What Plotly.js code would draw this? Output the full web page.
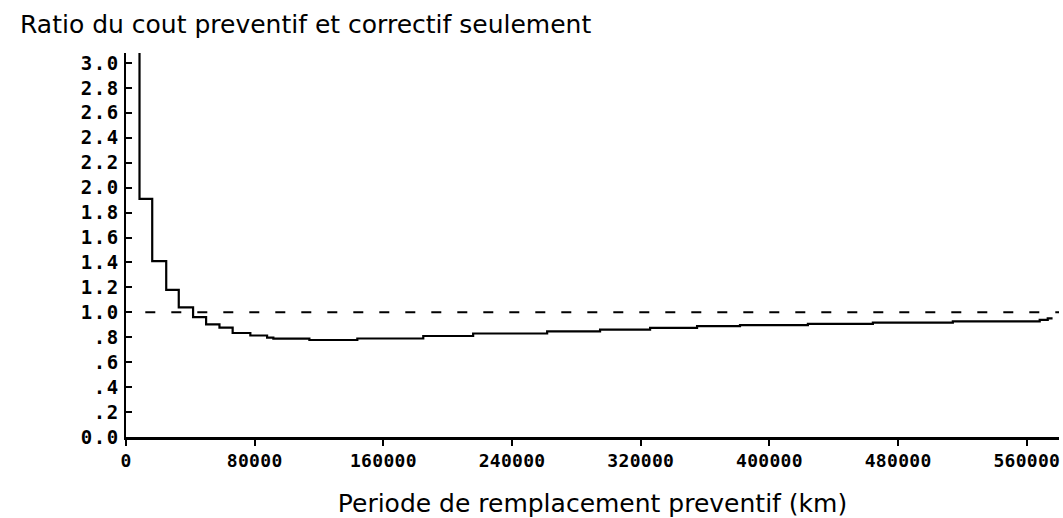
<!DOCTYPE html>
<html>
<head>
<meta charset="utf-8">
<script src="https://cdn.plot.ly/plotly-3.0.1.min.js"></script>
<style>
html,body{margin:0;padding:0;background:#fff;}
.ytick text {letter-spacing: 1.5px;}
.xtick text {letter-spacing: 0.3px;}
</style>
</head>
<body>
<div id="chart" style="width:1063px;height:518px;"></div>
<script>
// Preventive replacement period (km) at which each step starts
const periodKm = [0, 8400, 16300, 25000, 32800, 41700, 49800, 58100, 66300, 77300, 87700, 91600, 114000, 143800, 184800, 215800, 261800, 294700, 325800, 355000, 381700, 423900, 464300, 514000, 568000, 573000, 576000];
// Cost ratio (preventive + corrective vs corrective only); first value is off-scale
const costRatio = [20, 1.91, 1.41, 1.18, 1.04, 0.962, 0.904, 0.878, 0.834, 0.814, 0.797, 0.789, 0.778, 0.79, 0.81, 0.83, 0.848, 0.862, 0.876, 0.89, 0.898, 0.908, 0.918, 0.928, 0.94, 0.952, 0.952];
// Reference ratio = 1
const refKm = [12000, 580000];
const refRatio = [1, 1];
// Ticks
const xTickVals = [0, 80000, 160000, 240000, 320000, 400000, 480000, 560000];
const xTickText = ["0", "80000", "160000", "240000", "320000", "400000", "480000", "560000"];
const yTickVals = [0, 0.2, 0.4, 0.6, 0.8, 1.0, 1.2, 1.4, 1.6, 1.8, 2.0, 2.2, 2.4, 2.6, 2.8, 3.0];
const yTickText = ["0.0", ".2", ".4", ".6", ".8", "1.0", "1.2", "1.4", "1.6", "1.8", "2.0", "2.2", "2.4", "2.6", "2.8", "3.0"];

const xTickFont = {family: "DejaVu Sans Mono", size: 18, color: "#000", weight: 700};
const yTickFont = {family: "DejaVu Sans Mono", size: 19, color: "#000", weight: 700};
const textFont = {family: "DejaVu Sans", size: 25, color: "#000"};

const traces = [
  {x: refKm, y: refRatio, type: "scatter", mode: "lines",
   line: {color: "#000", width: 2, dash: "10px,16px"}, hoverinfo: "skip"},
  {x: periodKm, y: costRatio, type: "scatter", mode: "lines",
   line: {color: "#000", width: 2.2, shape: "hv"}}
];

const layout = {
  width: 1063, height: 518,
  margin: {l: 126, r: 4, t: 53, b: 81, pad: 0},
  paper_bgcolor: "#fff", plot_bgcolor: "#fff",
  showlegend: false,
  title: {text: "Ratio du cout preventif et correctif seulement", font: textFont,
          xref: "container", x: 20/1063, xanchor: "left",
          yref: "container", y: 1 - 24/518, yanchor: "middle"},
  xaxis: {range: [0, 580000], showgrid: false, zeroline: false,
          showline: true, linecolor: "#000", linewidth: 2.5,
          ticks: "outside", ticklen: 6, tickwidth: 2, tickcolor: "#000",
          ticklabeloverflow: "allow",
          tickvals: xTickVals, ticktext: xTickText, tickfont: xTickFont,
          title: {text: "Periode de remplacement preventif (km)", font: textFont, standoff: 25}},
  yaxis: {range: [0, 3.08], showgrid: false, zeroline: false,
          showline: true, linecolor: "#000", linewidth: 2.5,
          ticks: "inside", ticklen: 6, tickwidth: 2, tickcolor: "#000",
          ticklabeloverflow: "allow",
          tickvals: yTickVals, ticktext: yTickText, tickfont: yTickFont}
};

Plotly.newPlot("chart", traces, layout, {staticPlot: true, displayModeBar: false});
</script>
</body>
</html>
